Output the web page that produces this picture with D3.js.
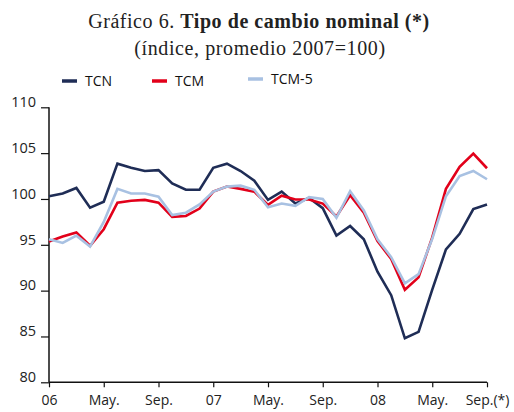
<!DOCTYPE html>
<html><head><meta charset="utf-8">
<script src="https://cdn.jsdelivr.net/npm/d3@7"></script>
<style>body{margin:0;background:#fff}svg{display:block}</style>
</head><body>
<script>
// Monthly data, Jan 2006 .. Sep 2008
const months = d3.range(33); // month index from Jan-06
const tcn  = [100.3,100.6,101.2,99.05,99.7,103.85,103.4,103.05,103.15,101.7,101.0,101.0,103.4,103.85,103.05,102.0,99.9,100.8,99.5,100.1,99.0,96.0,97.05,95.6,92.07,89.5,84.8,85.5,90.1,94.5,96.2,98.9,99.4];
const tcm  = [95.35,95.9,96.35,94.9,96.7,99.6,99.8,99.9,99.6,98.05,98.15,98.95,100.8,101.35,101.1,100.8,99.35,100.35,99.95,99.95,99.5,98.1,100.4,98.5,95.4,93.45,90.1,91.45,95.8,101.1,103.5,104.95,103.35];
const tcm5 = [95.6,95.2,96.0,94.8,97.5,101.1,100.6,100.6,100.25,98.25,98.5,99.4,100.8,101.35,101.45,101.0,99.1,99.5,99.25,100.2,100.0,97.95,100.85,98.75,95.6,93.65,90.8,91.8,95.65,100.3,102.5,103.05,102.15];
const xTickPos = [0,4,8,12,16,20,24,28,32];
const xTickLabels = ["06","May.","Sep.","07","May.","Sep.","08","May.","Sep.(*)"];
const yTicks = [80,85,90,95,100,105,110];
const seriesNames = ["TCN","TCM","TCM-5"];
const seriesColors = ["#1f2d56","#e2001a","#a8c1e2"];

const W=514,H=412;
const svg=d3.select("body").append("svg").attr("width",W).attr("height",H);
const x=d3.scaleLinear().domain([0,32]).range([49,487]);
const y=d3.scaleLinear().domain([80,110]).range([382.3,107.3]);

// Title
const t=svg.append("text").attr("x",259).attr("y",28).attr("text-anchor","middle")
  .style("font-family","'Liberation Serif',serif").style("font-size","20px").style("letter-spacing","0.55px").attr("fill","#222");
t.append("tspan").text("Gráfico 6. ");
t.append("tspan").attr("font-weight","bold").text("Tipo de cambio nominal (*)");
svg.append("text").attr("x",260).attr("y",55).attr("text-anchor","middle")
  .style("font-family","'Liberation Serif',serif").style("font-size","20px").style("letter-spacing","0.6px").attr("fill","#222")
  .text("(índice, promedio 2007=100)");

// Legend
const legX=[62,152,248], legY=[81,81,79];
seriesNames.forEach((n,i)=>{
  svg.append("line").attr("x1",legX[i]).attr("x2",legX[i]+15).attr("y1",legY[i]).attr("y2",legY[i])
    .attr("stroke",seriesColors[i]).attr("stroke-width",3.5);
  svg.append("text").attr("x",legX[i]+23).attr("y",legY[i]+5).text(n)
    .style("font-family","'Open Sans',sans-serif").style("font-size","14px").attr("fill","#111");
});

// Y axis
const yAxis=svg.append("g").attr("transform","translate(49,0)")
  .call(d3.axisLeft(y).tickValues(yTicks).tickSize(8).tickPadding(6));
yAxis.select(".domain").attr("stroke","#111").attr("stroke-width",1.5).attr("d","M0,107.3V382.3");
yAxis.selectAll(".tick line").attr("stroke","#111").attr("stroke-width",1.2);
yAxis.selectAll(".tick text").attr("dy","-0.05em").attr("x",-13)
  .style("font-family","'Open Sans',sans-serif").style("font-size","14.5px").attr("fill","#222");

// X axis
const xAxis=svg.append("g").attr("transform","translate(0,382.3)")
  .call(d3.axisBottom(x).tickValues(xTickPos).tickFormat((d,i)=>xTickLabels[i]).tickSize(5).tickPadding(8));
xAxis.select(".domain").attr("stroke","#111").attr("stroke-width",1.5).attr("d","M49,0H487");
xAxis.selectAll(".tick line").attr("stroke","#111").attr("stroke-width",1.2);
xAxis.selectAll(".tick text").style("font-family","'Open Sans',sans-serif").style("font-size","14px").attr("fill","#222");

// Lines
const line=d3.line().x((d,i)=>x(months[i])).y(d=>y(d));
[tcn,tcm,tcm5].forEach((s,i)=>{
  svg.append("path").datum(s).attr("d",line).attr("fill","none")
    .attr("stroke",seriesColors[i]).attr("stroke-width",2.6).attr("stroke-linejoin","miter");
});
</script>
</body></html>
